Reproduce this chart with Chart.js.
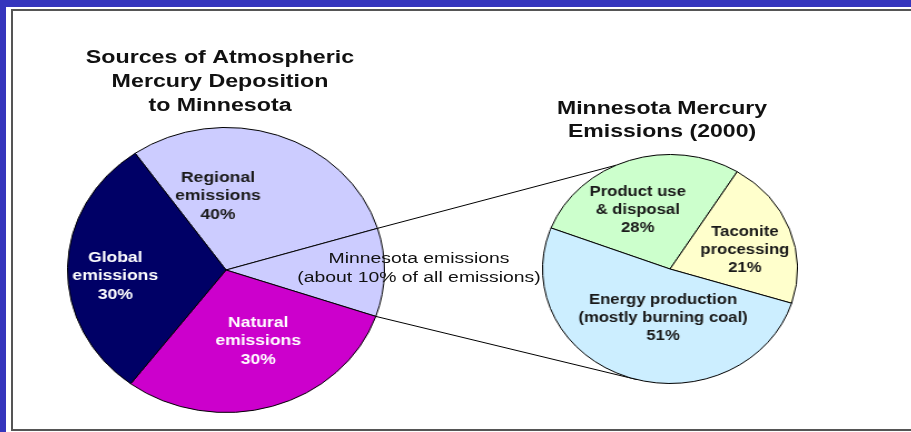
<!DOCTYPE html>
<html>
<head>
<meta charset="utf-8">
<script src="https://cdn.jsdelivr.net/npm/chart.js@4/dist/chart.umd.min.js"></script>
<style>
    html, body { margin: 0; padding: 0; }
    body { width: 911px; height: 432px; background: #3535bd; position: relative; overflow: hidden; font-family: "Liberation Sans", Arial, sans-serif; }
    #panel { position: absolute; left: 6px; top: 7px; width: 920px; height: 430px; background: #fff; }
    #frame { position: absolute; left: 11px; top: 9px; width: 950px; height: 422px; box-sizing: border-box; border: 2px solid #555; }
    canvas { position: absolute; }
    #left-pie { z-index: 1; }
    #overlay { left: 0; top: 0; z-index: 2; pointer-events: none; }
    #right-pie { z-index: 3; }
</style>
</head>
<body>
<div id="panel"></div>
<div id="frame"></div>
<!-- canvases are stretched by css so the pies come out slightly wide, like the original -->
<canvas id="left-pie" width="286" height="286" style="left:67px; top:127px; width:318px; height:286px;"></canvas>
<canvas id="overlay" width="911" height="432"></canvas>
<canvas id="right-pie" width="230" height="230" style="left:542px; top:154px; width:256px; height:230px;"></canvas>
<script>
// Sources of atmospheric mercury deposition to Minnesota (%)
const depLabels = ['Regional emissions', 'Minnesota emissions', 'Natural emissions', 'Global emissions'];
const depValues = [30, 10, 30, 30];
const depColors = ['#ccccff', '#ccccff', '#cc00cc', '#000066'];

// Minnesota mercury emissions 2000 (%)
const mnLabels = ['Product use & disposal', 'Taconite processing', 'Energy production (mostly burning coal)'];
const mnValues = [28, 21, 51];
const mnColors = ['#ccffcc', '#ffffcc', '#cceeff'];

const leftTitle = ['Sources of Atmospheric', 'Mercury Deposition', 'to Minnesota'];
const rightTitle = ['Minnesota Mercury', 'Emissions (2000)'];
const mnNote = ['Minnesota emissions', '(about 10% of all emissions)'];

const ASPECT = 1.113;
const FONT = '"Liberation Sans", Arial, sans-serif';

// text inside slices, placed by angle (deg from top) and radius fraction
const sliceTextPlugin = {
    id: 'sliceText',
    afterDatasetsDraw(chart, args, opts) {
        const ctx = chart.ctx;
        const arc0 = chart.getDatasetMeta(0).data[0];
        const cx = arc0.x, cy = arc0.y, R = arc0.outerRadius;
        ctx.save();
        ctx.font = opts.font;
        ctx.textAlign = 'center';
        ctx.textBaseline = 'middle';
        opts.items.forEach(it => {
            const a = it.angle * Math.PI / 180;
            const x = cx + it.r * R * Math.sin(a);
            const y = cy - it.r * R * Math.cos(a);
            ctx.fillStyle = it.color;
            it.lines.forEach((t, i) => {
                ctx.save();
                ctx.translate(x, y + (i - (it.lines.length - 1) / 2) * opts.lineHeight);
                ctx.scale(opts.stretch / ASPECT, 1);
                ctx.fillText(t, 0, 0);
                ctx.restore();
            });
        });
        ctx.restore();
    }
};

function pieOptions(rotation, textOpts) {
    return {
        responsive: false,
        animation: false,
        events: [],
        rotation,
        layout: { padding: 0 },
        plugins: {
            legend: { display: false },
            tooltip: { enabled: false },
            sliceText: textOpts
        }
    };
}

const leftChart = new Chart(document.getElementById('left-pie'), {
    type: 'pie',
    data: {
        labels: depLabels,
        datasets: [{ data: depValues, backgroundColor: depColors, borderColor: '#000', borderWidth: 1 }]
    },
    options: pieOptions(-35, {
        font: `bold 15px ${FONT}`,
        lineHeight: 18.5,
        stretch: 1.17,
        items: [
            { lines: ['Regional', 'emissions', (depValues[0] + depValues[1]) + '%'], angle: -5.6, r: 0.52, color: '#1a1a1a' },
            { lines: ['Natural', 'emissions', depValues[2] + '%'], angle: 157.9, r: 0.54, color: '#fff' },
            { lines: ['Global', 'emissions', depValues[3] + '%'], angle: 266.6, r: 0.70, color: '#fff' }
        ]
    }),
    plugins: [sliceTextPlugin]
});

const rightChart = new Chart(document.getElementById('right-pie'), {
    type: 'pie',
    data: {
        labels: mnLabels,
        datasets: [{ data: mnValues, backgroundColor: mnColors, borderColor: '#000', borderWidth: 1 }]
    },
    options: pieOptions(-69, {
        font: `bold 14px ${FONT}`,
        lineHeight: 18,
        stretch: 1.19,
        items: [
            { lines: ['Product use', '& disposal', mnValues[0] + '%'], angle: -26.4, r: 0.57, color: '#1a1a1a' },
            { lines: ['Taconite', 'processing', mnValues[1] + '%'], angle: 74.3, r: 0.61, color: '#1a1a1a' },
            { lines: ['Energy production', '(mostly burning coal)', mnValues[2] + '%'], angle: 187.3, r: 0.43, color: '#1a1a1a' }
        ]
    }),
    plugins: [sliceTextPlugin]
});

// chart canvas point -> page point (canvas is css-stretched horizontally)
function toPage(chart, x, y) {
    const c = chart.canvas;
    return [c.offsetLeft + x * c.offsetWidth / chart.width, c.offsetTop + y * c.offsetHeight / chart.height];
}

function drawOverlay() {
    const ctx = document.getElementById('overlay').getContext('2d');
    ctx.clearRect(0, 0, 911, 432);

    // connector lines: from the Minnesota slice edge to the emissions pie
    const mnArc = leftChart.getDatasetMeta(0).data[1];
    const rArc = rightChart.getDatasetMeta(0).data[0];
    const ends = [-25, 195].map(deg => {
        const a = (deg - 90) * Math.PI / 180;
        return toPage(rightChart, rArc.x + rArc.outerRadius * Math.cos(a), rArc.y + rArc.outerRadius * Math.sin(a));
    });
    const starts = [mnArc.startAngle, mnArc.endAngle].map(a =>
        toPage(leftChart, mnArc.x + mnArc.outerRadius * Math.cos(a), mnArc.y + mnArc.outerRadius * Math.sin(a)));
    ctx.strokeStyle = '#000';
    ctx.lineWidth = 1;
    for (let i = 0; i < 2; i++) {
        ctx.beginPath();
        ctx.moveTo(starts[i][0], starts[i][1]);
        ctx.lineTo(ends[i][0], ends[i][1]);
        ctx.stroke();
    }

    const text = (lines, x, y0, lh, font, stretch, color) => {
        ctx.font = font;
        ctx.fillStyle = color;
        ctx.textAlign = 'center';
        ctx.textBaseline = 'middle';
        lines.forEach((t, i) => {
            ctx.save();
            ctx.translate(x, y0 + i * lh);
            ctx.scale(stretch, 1);
            ctx.fillText(t, 0, 0);
            ctx.restore();
        });
    };

    text(leftTitle, 220, 58, 24, `bold 18px ${FONT}`, 1.29, '#111');
    text(rightTitle, 662, 109, 23.5, `bold 18px ${FONT}`, 1.28, '#111');
    text(mnNote, 419, 259, 19, `15.5px ${FONT}`, 1.25, '#111');
}

drawOverlay();
</script>
</body>
</html>
